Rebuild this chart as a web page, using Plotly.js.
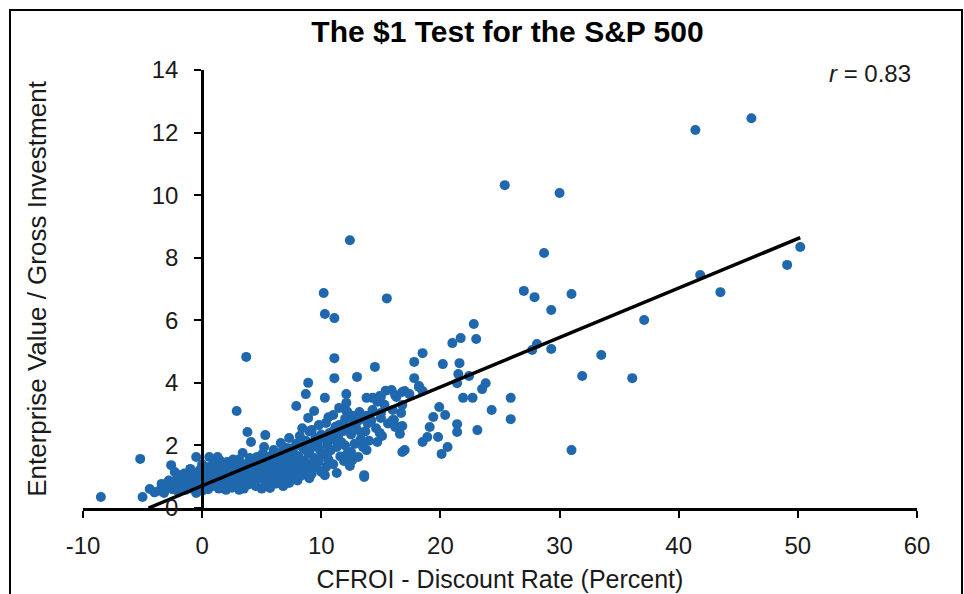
<!DOCTYPE html>
<html>
<head>
<meta charset="utf-8">
<script src="https://cdn.plot.ly/plotly-3.0.1.min.js"></script>
<style>html,body{margin:0;padding:0;background:#fff;}#chart{width:964px;height:594px;}</style>
</head>
<body>
<div id="chart"></div>
<script>
// Core cluster (CFROI - discount rate, percent) and EV / gross investment
const clusterSpread = [
  -8.5,-5.2,-5.0,-4.4,-4.0,
  -3.6,-3.4,-3.2,-3.0,-2.8,-2.6,-2.5,-2.3,-2.2,-2.1,-2.0,
  -1.9,-1.8,-1.7,-1.5,-1.4,-1.3,-1.2,-1.0,-0.9,-0.8,-0.7,-0.5,-0.5,-0.4,-0.3,-0.2,-0.1,0.0,0.0,
  0.2,0.3,0.4,0.5,0.6,0.7,0.8,0.9,1.0,1.1,1.2,1.3,1.4,1.5,1.6,1.7,1.8,1.9,2.0,2.0,1.5,0.8,
  2.1,2.2,2.3,2.4,2.5,2.6,2.7,2.8,2.9,3.0,3.1,3.1,3.2,3.3,3.4,3.4,3.5,3.6,3.7,3.7,3.8,3.8,3.9,4.0,4.0,
  4.1,4.2,4.3,4.4,4.5,4.6,4.7,4.8,4.9,5.0,5.1,5.2,5.3,5.3,5.4,5.5,5.6,5.7,5.7,5.8,5.9,6.0,6.0,5.5,4.6,
  6.1,6.2,6.3,6.4,6.5,6.6,6.6,6.7,6.8,6.9,7.0,7.0,7.1,7.2,7.3,7.3,7.4,7.5,7.6,7.7,7.8,7.9,7.9,8.0,8.0,7.5,6.8,6.3,
  8.1,8.2,8.3,8.4,8.5,8.6,8.7,8.7,8.8,8.9,8.9,8.9,9.0,9.1,9.2,9.2,9.3,9.4,9.4,9.5,9.6,9.7,9.8,9.8,9.9,10.0,10.0,8.4,9.0,
  -1.6,-1.1,-0.6,0.1,0.6,1.0,1.4,1.9,2.4,2.8,3.2,3.6,4.2,4.6,5.0,5.4,5.8,6.2,6.6,7.0,
  7.4,7.8,8.2,8.6,9.0,9.4,9.8,10.2,10.6,11.0,11.4,11.8,12.2,12.6,13.0,13.4,13.8,14.2,2.6,5.2
];
const clusterRatio = [
  0.35,1.57,0.35,0.61,0.50,
  0.55,0.77,0.48,0.66,0.88,1.37,0.60,1.15,0.74,0.95,0.52,
  1.05,0.68,0.85,1.10,0.58,0.92,0.75,1.25,0.62,1.00,0.82,1.63,0.48,1.12,0.70,1.21,0.90,0.55,1.40,
  0.78,1.05,1.30,0.60,1.63,0.92,1.18,0.70,1.45,0.85,1.02,1.63,0.62,1.25,0.95,0.75,1.38,1.10,0.58,0.88,1.52,1.35,
  1.47,0.80,1.20,1.00,0.65,1.35,0.92,1.10,3.10,0.70,0.58,1.55,1.25,0.85,1.76,1.05,0.62,1.40,4.83,0.95,2.43,1.15,0.75,1.60,1.30,
  2.11,0.88,1.05,1.45,0.70,1.63,1.20,0.95,1.35,0.62,1.75,1.08,2.33,0.80,1.50,1.25,0.98,0.64,1.65,1.15,0.85,1.40,1.85,0.72,1.02,
  1.05,0.78,1.60,1.28,0.92,2.08,1.48,1.15,0.70,1.75,1.35,0.95,1.92,1.10,2.24,0.80,1.55,1.25,1.80,1.00,1.45,3.26,2.05,1.20,0.88,1.65,1.88,1.20,
  1.65,2.30,1.35,1.05,1.90,1.50,3.64,2.15,1.20,4.00,2.88,1.75,2.45,1.40,2.49,1.10,1.95,3.10,1.60,2.25,1.30,2.00,2.65,1.50,1.85,2.35,1.15,2.55,0.95,
  0.80,0.95,1.05,1.15,1.20,1.25,1.05,1.40,1.28,1.50,1.00,1.30,1.30,1.40,1.45,1.20,1.55,1.70,1.05,1.62,
  1.90,1.70,2.00,1.90,1.75,2.10,2.20,2.25,1.80,2.45,2.10,2.65,2.55,2.95,2.75,2.40,2.95,2.80,1.55,1.95
];
// Middle range
const midSpread = [
  10.1,10.2,10.3,10.3,10.3,10.4,10.4,10.5,10.6,10.7,10.8,10.9,11.0,11.0,11.1,11.1,11.1,11.2,11.3,11.3,11.4,11.5,11.6,11.7,11.8,11.9,12.0,12.0,12.1,12.1,12.1,10.6,11.5,
  12.2,12.2,12.4,12.4,12.5,12.5,12.6,12.7,12.8,13.0,13.0,13.1,13.2,13.3,13.4,13.5,13.6,13.7,13.8,13.8,13.9,14.0,14.3,14.3,14.5,14.6,14.7,14.9,14.9,13.6,
  15.0,15.0,15.0,15.1,15.5,15.3,15.6,15.9,16.0,16.0,16.1,16.2,16.2,16.3,16.6,16.6,16.7,16.8,16.8,16.8,16.8,17.0,17.0,17.4,15.4,14.7,
  17.8,17.8,18.2,18.2,18.5,18.5,18.5,18.9,19.1,19.4,19.8,19.9,20.1,20.2,20.4,20.6,21.0,21.4,21.4,21.4,21.5,21.6,21.7,21.9,22.4,22.7,22.8,23.0,23.1,23.5,23.8,24.3
];
const midRatio = [
  1.70,6.87,6.20,3.52,1.05,2.72,1.31,2.05,1.55,2.40,1.85,2.20,2.97,1.40,6.07,4.79,4.15,2.60,1.12,1.95,2.30,2.65,1.65,2.10,2.45,1.50,2.85,2.00,3.64,3.36,3.10,2.90,3.20,
  3.07,1.75,8.56,1.34,1.79,2.35,1.53,2.70,2.05,4.19,2.50,1.63,3.07,2.20,2.85,1.95,0.99,2.45,3.52,1.85,2.70,2.15,3.52,3.13,4.51,2.55,2.11,3.58,2.40,1.05,
  3.55,3.04,2.88,2.30,6.70,3.30,2.70,3.77,3.13,2.81,2.81,3.61,2.59,3.55,2.37,2.59,3.04,3.71,3.29,2.62,1.79,1.85,3.74,3.64,3.75,3.40,
  4.67,4.15,3.90,3.87,4.95,3.74,2.11,2.27,2.59,2.91,2.27,3.23,1.73,4.60,2.97,1.95,5.27,3.99,2.68,2.43,4.28,4.63,5.43,3.52,4.22,3.52,5.88,5.40,2.49,3.80,3.99,3.13
];
// High-spread tail
const tailSpread = [25.4,25.9,25.9,27.0,27.7,27.9,28.1,28.7,29.3,29.3,30.0,31.0,31.0,31.9,33.5,36.1,37.1,41.4,41.8,43.5,46.1,49.1,50.2];
const tailRatio  = [10.32,3.52,2.84,6.94,5.05,6.74,5.24,8.15,6.33,5.08,10.07,6.84,1.85,4.22,4.89,4.15,6.01,12.08,7.45,6.90,12.46,7.77,8.34];

// Regression line
const fitSlope = 0.158;
const fitIntercept = 0.71;
const fitXRange = [-4.5, 50.2];

const xTicks = [-10, 0, 10, 20, 30, 40, 50, 60];
const yTicks = [0, 2, 4, 6, 8, 10, 12, 14];

const xs = clusterSpread.concat(midSpread, tailSpread);
const ys = clusterRatio.concat(midRatio, tailRatio);

const FONT = 'Liberation Sans, Arial, sans-serif';
const blue = '#2068ae';
const textColor = '#1a1a1a';

const traces = [
  {
    type: 'scatter', mode: 'markers', x: xs, y: ys,
    marker: {color: blue, size: 10, line: {width: 0}},
    hoverinfo: 'x+y', cliponaxis: false
  },
  {
    type: 'scatter', mode: 'lines',
    x: fitXRange,
    y: fitXRange.map(v => fitIntercept + fitSlope * v),
    line: {color: '#000', width: 3.5},
    hoverinfo: 'skip'
  }
];

const layout = {
  width: 964, height: 594,
  margin: {l: 83, r: 47, t: 70, b: 86},
  paper_bgcolor: '#fff', plot_bgcolor: '#fff',
  showlegend: false,
  font: {family: FONT, color: textColor},
  title: {
    text: '<b>The $1 Test for the S&amp;P 500</b>',
    font: {family: FONT, size: 30, color: '#000'},
    xref: 'paper', x: 0.509, xanchor: 'center',
    yref: 'container', y: 1 - 31/594, yanchor: 'middle'
  },
  xaxis: {
    range: [-10, 60], domain: [0, 1],
    tickmode: 'array', tickvals: xTicks, ticktext: xTicks.map(String),
    showgrid: false, zeroline: false,
    showline: true, linecolor: '#000', linewidth: 2.5,
    ticks: 'outside', ticklen: 7, tickwidth: 2, tickcolor: '#000',
    ticklabelstandoff: 8,
    tickfont: {family: FONT, size: 24, color: textColor},
    title: {text: 'CFROI - Discount Rate (Percent)', font: {family: FONT, size: 25, color: textColor}, standoff: 12},
    automargin: false, fixedrange: true
  },
  yaxis: {
    range: [0, 14], anchor: 'free', position: 1/7,
    tickmode: 'array', tickvals: yTicks, ticktext: yTicks.map(String),
    showgrid: false, zeroline: false,
    showline: true, linecolor: '#000', linewidth: 2.5,
    ticks: 'outside', ticklen: 7, tickwidth: 2, tickcolor: '#000',
    ticklabelstandoff: 11,
    tickfont: {family: FONT, size: 24, color: textColor},
    title: {text: 'Enterprise Value / Gross Investment', font: {family: FONT, size: 26, color: textColor}, standoff: 96},
    automargin: false, fixedrange: true
  },
  annotations: [
    {
      xref: 'paper', yref: 'paper', x: (913 - 83) / 834, y: (508 - 73) / 438,
      xanchor: 'right', yanchor: 'middle', showarrow: false,
      text: '<i>r</i> = 0.83', font: {family: FONT, size: 24, color: textColor}
    }
  ],
  shapes: [
    {
      type: 'rect', xref: 'paper', yref: 'paper', layer: 'above',
      x0: (10 - 83) / 834, x1: (962 - 83) / 834,
      y0: (508 - 620) / 438, y1: (508 - 10) / 438,
      line: {color: '#000', width: 2}, fillcolor: 'rgba(0,0,0,0)'
    }
  ]
};

Plotly.newPlot('chart', traces, layout, {displayModeBar: false, staticPlot: true});
</script>
</body>
</html>
